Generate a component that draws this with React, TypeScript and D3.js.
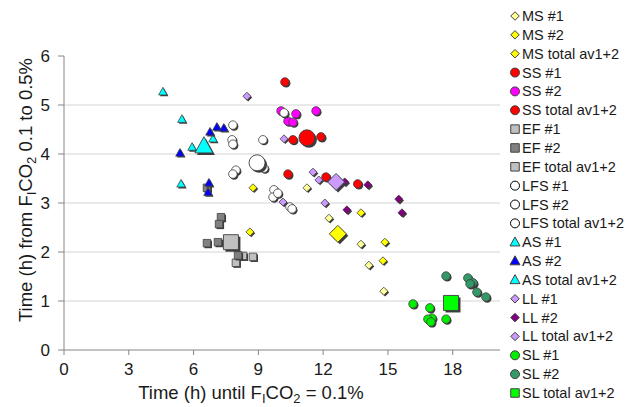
import React from 'react';
import * as d3 from 'd3';

// ---- data (x: Time (h) until FiCO2 = 0.1%, y: Time (h) from FiCO2 0.1 to 0.5%) ----
const ms1: [number, number][] = [[11.25, 3.31], [12.27, 2.69], [13.75, 2.16], [14.12, 1.73], [14.81, 1.2]];
const ms2: [number, number][] = [[8.75, 3.31], [8.61, 2.41], [13.75, 2.8], [14.86, 2.2], [14.77, 1.82]];
const msTotal: [number, number][] = [[12.68, 2.37]];
const ss1: [number, number][] = [[10.23, 5.47], [10.6, 4.29], [11.9, 4.35], [10.37, 3.59], [12.13, 3.53], [13.6, 3.39]];
const ss2: [number, number][] = [[10.05, 4.88], [10.74, 4.82], [11.67, 4.88], [10.37, 4.67], [10.6, 4.65]];
const ssTotal: [number, number][] = [[11.25, 4.33]];
const ef1: [number, number][] = [[8.29, 1.92], [8.75, 1.9], [7.96, 1.78]];
const ef2: [number, number][] = [[7.27, 2.71], [7.18, 2.57], [6.62, 2.18], [7.13, 2.2], [8.06, 1.93], [6.62, 3.31]];
const efTotal: [number, number][] = [[7.73, 2.2]];
const lfs1: [number, number][] = [[7.82, 4.59], [7.78, 4.29], [9.21, 4.29], [7.96, 3.67], [10.19, 4.84], [9.72, 3.27], [10.46, 2.92]];
const lfs2: [number, number][] = [[7.82, 4.2], [9.26, 3.71], [7.82, 3.59], [9.68, 3.12], [9.9, 3.2], [10.56, 2.88]];
const lfsTotal: [number, number][] = [[8.94, 3.82]];
const as1: [number, number][] = [[4.58, 5.27], [5.46, 4.71], [6.9, 4.31], [5.93, 4.14], [5.42, 3.39]];
const as2: [number, number][] = [[7.08, 4.55], [7.4, 4.53], [6.76, 4.45], [5.37, 4.02], [6.71, 3.41], [6.67, 3.22]];
const asTotal: [number, number][] = [[6.48, 4.16]];
const ll1: [number, number][] = [[8.47, 5.18], [10.19, 4.31], [11.53, 3.63], [11.8, 3.47], [10.14, 3.02], [12.08, 3.0]];
const ll2: [number, number][] = [[13.0, 3.43], [14.07, 3.37], [15.5, 3.08], [15.65, 2.8], [13.1, 2.86]];
const llTotal: [number, number][] = [[12.6, 3.43]];
const sl1: [number, number][] = [[16.16, 0.94], [16.94, 0.86], [17.04, 0.65], [16.85, 0.63], [16.99, 0.57], [17.69, 0.63]];
const sl2: [number, number][] = [[17.69, 1.51], [18.7, 1.47], [18.94, 1.37], [18.8, 1.35], [19.12, 1.18], [19.54, 1.08]];
const slTotal: [number, number][] = [[17.92, 0.96]];

const xTicks = [0, 3, 6, 9, 12, 15, 18];
const yTicks = [0, 1, 2, 3, 4, 5, 6];
const gridTicks = [1, 2, 3, 4, 5];

type Shape = 'diamond' | 'circle' | 'square' | 'triangle';
interface Series { name: string; data: [number, number][]; shape: Shape; fill: string; big?: boolean; }

const series: Series[] = [
  { name: 'MS #1', data: ms1, shape: 'diamond', fill: '#FFFF99' },
  { name: 'MS #2', data: ms2, shape: 'diamond', fill: '#FFFF00' },
  { name: 'MS total av1+2', data: msTotal, shape: 'diamond', fill: '#FFFF00', big: true },
  { name: 'SS #1', data: ss1, shape: 'circle', fill: '#FF0000' },
  { name: 'SS #2', data: ss2, shape: 'circle', fill: '#FF00FF' },
  { name: 'SS total av1+2', data: ssTotal, shape: 'circle', fill: '#FF0000', big: true },
  { name: 'EF #1', data: ef1, shape: 'square', fill: '#C0C0C0' },
  { name: 'EF #2', data: ef2, shape: 'square', fill: '#808080' },
  { name: 'EF total av1+2', data: efTotal, shape: 'square', fill: '#C0C0C0', big: true },
  { name: 'LFS #1', data: lfs1, shape: 'circle', fill: '#FFFFFF' },
  { name: 'LFS #2', data: lfs2, shape: 'circle', fill: '#FFFFFF' },
  { name: 'LFS total av1+2', data: lfsTotal, shape: 'circle', fill: '#FFFFFF', big: true },
  { name: 'AS #1', data: as1, shape: 'triangle', fill: '#00FFFF' },
  { name: 'AS #2', data: as2, shape: 'triangle', fill: '#0000FF' },
  { name: 'AS total av1+2', data: asTotal, shape: 'triangle', fill: '#00FFFF', big: true },
  { name: 'LL #1', data: ll1, shape: 'diamond', fill: '#CC99FF' },
  { name: 'LL #2', data: ll2, shape: 'diamond', fill: '#800080' },
  { name: 'LL total av1+2', data: llTotal, shape: 'diamond', fill: '#CC99FF', big: true },
  { name: 'SL #1', data: sl1, shape: 'circle', fill: '#00EE00' },
  { name: 'SL #2', data: sl2, shape: 'circle', fill: '#339966' },
  { name: 'SL total av1+2', data: slTotal, shape: 'square', fill: '#00FF00', big: true },
];

function shapePath(shape: Shape, s: number): string {
  const h = s / 2;
  const p = d3.path();
  if (shape === 'circle') {
    p.arc(0, 0, h, 0, Math.PI * 2);
  } else if (shape === 'square') {
    p.rect(-h, -h, s, s);
  } else if (shape === 'diamond') {
    p.moveTo(0, -h); p.lineTo(h, 0); p.lineTo(0, h); p.lineTo(-h, 0); p.closePath();
  } else {
    p.moveTo(0, -h * 1.05); p.lineTo(h, h * 0.75); p.lineTo(-h, h * 0.75); p.closePath();
  }
  return p.toString();
}

function markerSize(shape: Shape, big?: boolean): number {
  if (big) {
    if (shape === 'triangle') return 18;
    if (shape === 'diamond') return 17;
    if (shape === 'circle') return 16;
    return 15;
  }
  if (shape === 'circle') return 8.5;
  if (shape === 'square') return 7.5;
  if (shape === 'triangle') return 8.5;
  return 8;
}

const FONT = '"Liberation Sans", Arial, sans-serif';

export default function App() {
  const W = 630, H = 407;
  const x = d3.scaleLinear().domain([0, 20.19]).range([64, 500]);
  const y = d3.scaleLinear().domain([0, 6]).range([350, 56]);
  const axisColor = '#868686';

  const legendY = d3.scaleLinear().domain([0, series.length - 1]).range([16, 393]);

  return (
    <svg width={W} height={H} style={{ position: 'absolute', left: 0, top: 0, background: '#fff' }} fontFamily={FONT}>
      <rect x={0} y={0} width={W} height={H} fill="#fff" />
      {/* gridlines */}
      {gridTicks.map(t => (
        <line key={'g' + t} x1={x(0)} x2={x(20.19)} y1={y(t)} y2={y(t)} stroke="#d4d4d4" strokeWidth={1} />
      ))}
      {/* y axis */}
      <line x1={x(0)} x2={x(0)} y1={y(0)} y2={y(6)} stroke={axisColor} strokeWidth={1} />
      {yTicks.map(t => (
        <g key={'yt' + t}>
          <line x1={x(0) - 6} x2={x(0)} y1={y(t)} y2={y(t)} stroke={axisColor} strokeWidth={1} />
          <text x={50} y={y(t) + 6} textAnchor="end" fontSize={17} fill="#1a1a1a">{t}</text>
        </g>
      ))}
      {/* x axis */}
      <line x1={x(0)} x2={x(20.19)} y1={y(0)} y2={y(0)} stroke={axisColor} strokeWidth={1} />
      {xTicks.map(t => (
        <g key={'xt' + t}>
          <line x1={x(t)} x2={x(t)} y1={y(0)} y2={y(0) + 5} stroke={axisColor} strokeWidth={1} />
          <text x={x(t)} y={375} textAnchor="middle" fontSize={17} fill="#1a1a1a">{t}</text>
        </g>
      ))}
      {/* axis titles */}
      <text x={251} y={399} textAnchor="middle" fontSize={18.5} fill="#1a1a1a">
        Time (h) until F<tspan fontSize={13} dy={3.5}>I</tspan><tspan dy={-3.5}>CO</tspan><tspan fontSize={13} dy={3.5}>2</tspan><tspan dy={-3.5}> = 0.1%</tspan>
      </text>
      <text transform={`translate(32,190) rotate(-90)`} textAnchor="middle" fontSize={18.5} fill="#1a1a1a">
        Time (h) from F<tspan fontSize={13} dy={3.5}>I</tspan><tspan dy={-3.5}>CO</tspan><tspan fontSize={13} dy={3.5}>2</tspan><tspan dy={-3.5}> 0.1 to 0.5%</tspan>
      </text>
      {/* data */}
      {series.map((s, si) => {
        const size = markerSize(s.shape, s.big);
        const d = shapePath(s.shape, size);
        const off = s.big ? 2 : 1.3;
        return (
          <g key={'s' + si}>
            {s.data.map((pt, i) => (
              <g key={i} transform={`translate(${x(pt[0])},${y(pt[1])})`}>
                <path d={d} transform={`translate(${off},${off})`} fill="#3c3c3c" />
                <path d={d} fill={s.fill} stroke="#404040" strokeWidth={s.big ? 0.9 : 0.8} />
              </g>
            ))}
          </g>
        );
      })}
      {/* legend */}
      {series.map((s, si) => {
        const ly = legendY(si);
        const sz = s.shape === 'circle' ? 9 : s.shape === 'triangle' ? 10 : 8.5;
        return (
          <g key={'l' + si}>
            <path d={shapePath(s.shape, sz)} transform={`translate(515,${ly})`} fill={s.fill}
              stroke={s.fill === '#FFFFFF' ? '#000' : '#404040'} strokeWidth={1} />
            <text x={522} y={ly + 5} fontSize={14.5} fill="#1a1a1a">{s.name}</text>
          </g>
        );
      })}
    </svg>
  );
}
